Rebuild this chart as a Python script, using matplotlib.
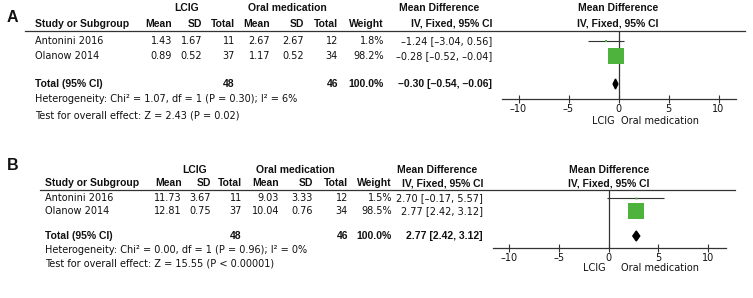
import matplotlib
matplotlib.use("Agg")
import matplotlib.pyplot as plt
from matplotlib.patches import Polygon

W, H = 753, 298
fig = plt.figure(figsize=(W / 100, H / 100), dpi=100)
plt.rcParams['font.family'] = ['DejaVu Sans']

# ---------------- data ----------------
studies = ["Antonini 2016", "Olanow 2014"]

A_lcig_mean = ["1.43", "0.89"]
A_lcig_sd = ["1.67", "0.52"]
A_lcig_n = [11, 37]
A_oral_mean = ["2.67", "1.17"]
A_oral_sd = ["2.67", "0.52"]
A_oral_n = [12, 34]
A_weight = [1.8, 98.2]
A_md = [-1.24, -0.28]
A_lo = [-3.04, -0.52]
A_hi = [0.56, -0.04]
A_total = (-0.30, -0.54, -0.06)
A_het = "Heterogeneity: Chi\u00b2 = 1.07, df = 1 (P = 0.30); I\u00b2 = 6%"
A_test = "Test for overall effect: Z = 2.43 (P = 0.02)"

B_lcig_mean = ["11.73", "12.81"]
B_lcig_sd = ["3.67", "0.75"]
B_lcig_n = [11, 37]
B_oral_mean = ["9.03", "10.04"]
B_oral_sd = ["3.33", "0.76"]
B_oral_n = [12, 34]
B_weight = [1.5, 98.5]
B_md = [2.70, 2.77]
B_lo = [-0.17, 2.42]
B_hi = [5.57, 3.12]
B_total = (2.77, 2.42, 3.12)
B_het = "Heterogeneity: Chi\u00b2 = 0.00, df = 1 (P = 0.96); I\u00b2 = 0%"
B_test = "Test for overall effect: Z = 15.55 (P < 0.00001)"

ticks = [-10, -5, 0, 5, 10]

# ---------------- helpers ----------------
base = fig.add_axes([0, 0, 1, 1])
base.set_xlim(0, W)
base.set_ylim(H, 0)
base.axis("off")

FS = 7
BFS = 7.5
GREEN = "#4db33d"
TXT = "#111111"
DASH = "\u2013"


def fmt(v):
    s = f"{v:.2f}"
    return s.replace("-", DASH)


def ci_text(m, lo, hi):
    return f"{fmt(m)} [{fmt(lo)}, {fmt(hi)}]"


def txt(x, y, s, ha="left", bold=False, size=None):
    if bold:
        base.text(x, y, s, ha=ha, va="center", fontsize=size or BFS,
                  fontweight="bold", family=["Liberation Sans", "DejaVu Sans"],
                  color=TXT)
    else:
        base.text(x, y, s, ha=ha, va="center", fontsize=size or FS,
                  color=TXT)


def panel(label, lab_xy, cols, hdr, rows_y, tot_y, het_y, test_y, line,
          lcig_mean, lcig_sd, lcig_n, oral_mean, oral_sd, oral_n,
          weight, md, lo, hi, total, het, test, forest):
    txt(lab_xy[0], lab_xy[1], label, bold=True, size=11.5)
    (study_x, c_m1, c_sd1, c_n1, c_m2, c_sd2, c_n2, c_w, c_md) = cols
    (y1, y2, lcig_c, oral_c, mdl_c, mdr_c) = hdr
    txt(lcig_c, y1, "LCIG", ha="center", bold=True)
    txt(oral_c, y1, "Oral medication", ha="center", bold=True)
    txt(mdl_c, y1, "Mean Difference", ha="center", bold=True)
    txt(mdr_c, y1, "Mean Difference", ha="center", bold=True)
    txt(study_x, y2, "Study or Subgroup", bold=True)
    for x, s in [(c_m1, "Mean"), (c_sd1, "SD"), (c_n1, "Total"),
                 (c_m2, "Mean"), (c_sd2, "SD"), (c_n2, "Total"),
                 (c_w, "Weight"), (c_md, "IV, Fixed, 95% CI")]:
        txt(x, y2, s, ha="right", bold=True)
    txt(mdr_c, y2, "IV, Fixed, 95% CI", ha="center", bold=True)
    base.plot([line[0], line[1]], [line[2], line[2]], color="#333333", lw=0.9)
    for i, name in enumerate(studies):
        y = rows_y[i]
        txt(study_x, y, name)
        txt(c_m1, y, lcig_mean[i], ha="right")
        txt(c_sd1, y, lcig_sd[i], ha="right")
        txt(c_n1, y, str(lcig_n[i]), ha="right")
        txt(c_m2, y, oral_mean[i], ha="right")
        txt(c_sd2, y, oral_sd[i], ha="right")
        txt(c_n2, y, str(oral_n[i]), ha="right")
        txt(c_w, y, f"{weight[i]:.1f}%", ha="right")
        txt(c_md, y, ci_text(md[i], lo[i], hi[i]), ha="right")
    txt(study_x, tot_y, "Total (95% CI)", bold=True)
    txt(c_n1, tot_y, str(sum(lcig_n)), ha="right", bold=True)
    txt(c_n2, tot_y, str(sum(oral_n)), ha="right", bold=True)
    txt(c_w, tot_y, "100.0%", ha="right", bold=True)
    txt(c_md, tot_y, ci_text(*total), ha="right", bold=True)
    txt(study_x, het_y, het)
    txt(study_x, test_y, test)

    # forest axes: pixel box (left, right, top, bottom), x-range
    (fl, fr, ft, fb, xmin, xmax, lab_y, lcig_x, oral_x) = forest
    ax = fig.add_axes([fl / W, 1 - fb / H, (fr - fl) / W, (fb - ft) / H])
    ax.set_xlim(xmin, xmax)
    ax.set_ylim(fb, ft)
    ax.patch.set_alpha(0)
    for s in ["top", "right", "left"]:
        ax.spines[s].set_visible(False)
    ax.spines["bottom"].set_color("#333333")
    ax.spines["bottom"].set_linewidth(0.9)
    ax.set_yticks([])
    ax.set_xticks(ticks)
    ax.set_xticklabels([str(t).replace("-", DASH) for t in ticks],
                       fontsize=FS, color=TXT)
    ax.tick_params(axis="x", direction="inout", length=6, width=0.8,
                   color="#333333", pad=0.5)
    ax.axvline(0, color="#333333", lw=0.9)
    for i in range(len(studies)):
        y = rows_y[i]
        ax.plot([lo[i], hi[i]], [y, y], color="#333333", lw=0.8,
                solid_capstyle="butt")
        side_pt = 11.2 * (weight[i] / 100) ** 0.5
        ax.plot(md[i], y, marker="s", ms=max(side_pt, 1.0), color=GREEN,
                mec=GREEN, mew=0)
    m, l, h = total
    dh = 5
    ax.add_patch(Polygon([(l, tot_y), (m, tot_y - dh), (h, tot_y),
                          (m, tot_y + dh)], closed=True, color="black"))
    base.text(lcig_x, lab_y, "LCIG", ha="center", va="center", fontsize=FS,
              color=TXT)
    base.text(oral_x, lab_y, "Oral medication", ha="center", va="center",
              fontsize=FS, color=TXT)


panel("A", (7, 17),
      (35, 172, 202, 235, 270, 304, 338, 384, 492),
      (8, 24, 187, 287, 439, 618),
      (41, 56), 84, 99, 115, (25, 745, 31),
      A_lcig_mean, A_lcig_sd, A_lcig_n, A_oral_mean, A_oral_sd, A_oral_n,
      A_weight, A_md, A_lo, A_hi, A_total, A_het, A_test,
      (502, 736, 31, 99, -11.65, 11.75, 121, 603, 660))

panel("B", (7, 165),
      (45, 182, 211, 242, 279, 313, 348, 392, 483),
      (170, 183, 195, 295, 437, 609),
      (198, 211), 236, 250, 263, (40, 735, 190),
      B_lcig_mean, B_lcig_sd, B_lcig_n, B_oral_mean, B_oral_sd, B_oral_n,
      B_weight, B_md, B_lo, B_hi, B_total, B_het, B_test,
      (493, 726, 190, 248, -11.65, 11.8, 268, 594, 660))

fig.savefig("out.png", dpi=100)
